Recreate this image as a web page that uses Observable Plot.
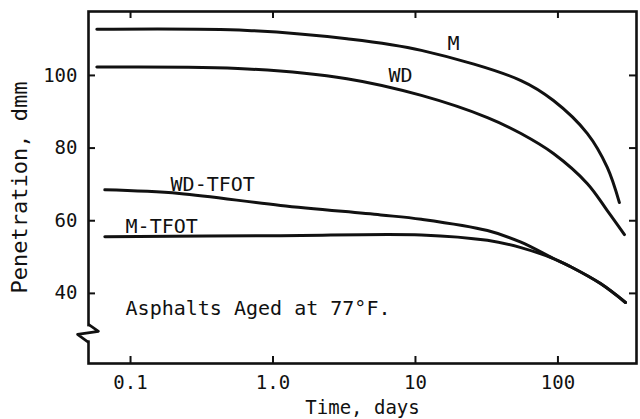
<!DOCTYPE html>
<html>
<head>
<meta charset="utf-8">
<script src="https://cdn.jsdelivr.net/npm/d3@7"></script>
<script src="https://cdn.jsdelivr.net/npm/@observablehq/plot@0.6"></script>
<style>
  html, body { margin: 0; padding: 0; background: #fff; }
</style>
</head>
<body>
<div id="chart"></div>
<script>
// ---- data ----
const seriesNames = ["M", "WD", "WD-TFOT", "M-TFOT"];
const curveM = [[0.058,112.7],[0.66,112.4],[3.3,110.1],[11,106.9],[55,98.6],[93,93.1],[161,84],[222,74.7],[270,65]];
const curveWD = [[0.058,102.3],[0.66,101.8],[3.3,99.1],[11,94.5],[32,88.4],[55,84],[93,78.5],[161,70.2],[222,62.8],[293,56.2]];
const curveWDTFOT = [[0.066,68.5],[0.22,67.5],[1.13,64.2],[5.7,61.6],[11,60.4],[32,57.3],[55,54.1],[93,49.6],[122,47.4],[199,42.7],[298,37.5]];
const curveMTFOT = [[0.066,55.6],[1.13,55.9],[11,56.1],[32,54.6],[55,52.6],[93,49.6],[122,47.4],[199,42.7],[298,37.5]];

const xTicks = [0.1, 1, 10, 100];
const xTickLabels = ["0.1", "1.0", "10", "100"];
const yTicks = [40, 60, 80, 100];

// curve labels: [text, day, penetration]
const centeredLabels = [
  ["M", 18.5, 108.8],
  ["WD", 7.85, 100.0]
];
const leftLabels = [
  ["WD-TFOT", 0.191, 70.0],
  ["M-TFOT", 0.0923, 58.3]
];
const noteText = ["Asphalts Aged at 77°F."];
const noteDay = [0.0923];
const notePen = [35.8];
const axisBreak = [29];

// ---- build ----
const curves = [curveM, curveWD, curveWDTFOT, curveMTFOT];
const rows = curves.flatMap((c, i) => c.map(([d, p]) => ({series: seriesNames[i], day: d, pen: p})));
const tickLabelOf = new Map(xTicks.map((t, i) => [t, xTickLabels[i]]));

const W = 640, H = 419;
const mL = 88, mR = 4, mT = 11, mB = 56;
const innerW = W - mL - mR, innerH = H - mT - mB;
const xDomain = [0.0507, 356];
const yDomain = [20.7, 117.6];

const gap = {draw(ctx) { ctx.moveTo(0, -7); ctx.lineTo(0, 7); }};
const zigzag = {
  draw(ctx) {
    ctx.moveTo(0, -9);
    ctx.lineTo(10, -2);
    ctx.lineTo(-11, 1);
    ctx.lineTo(0, 9);
  }
};

const font = "DejaVu Sans Mono";

const chart = Plot.plot({
  width: W, height: H,
  marginLeft: mL, marginRight: mR, marginTop: mT, marginBottom: mB,
  style: {fontFamily: font, fontSize: "19px", color: "#111", background: "#fff"},
  x: {type: "log", domain: xDomain},
  y: {domain: yDomain},
  marks: [
    Plot.axisX({ticks: xTicks, tickSize: 0, tickPadding: 12, tickFormat: d => tickLabelOf.get(d),
      label: "Time, days", labelAnchor: "center", labelOffset: 50, labelArrow: "none", fontSize: 19}),
    Plot.axisY({ticks: yTicks, tickSize: 0, tickPadding: 11, label: null, fontSize: 19}),
    Plot.axisY({ticks: [], tickSize: 0, label: "Penetration, dmm",
      labelAnchor: "center", labelOffset: 77, labelArrow: "none", fontSize: 22}),
    // inward ticks
    Plot.tickX(xTicks, {x: d => d, insetTop: innerH - 7, stroke: "#111", strokeWidth: 2}),
    Plot.tickX(xTicks, {x: d => d, insetBottom: innerH - 7, stroke: "#111", strokeWidth: 2}),
    Plot.tickY(yTicks, {y: d => d, insetRight: innerW - 7, stroke: "#111", strokeWidth: 2}),
    Plot.tickY(yTicks, {y: d => d, insetLeft: innerW - 7, stroke: "#111", strokeWidth: 2}),
    Plot.frame({stroke: "#111", strokeWidth: 2.6}),
    Plot.dot(axisBreak, {x: () => xDomain[0], y: d => d, symbol: gap, r: 10,
      stroke: "#fff", strokeWidth: 5, fill: "none"}),
    Plot.dot(axisBreak, {x: () => xDomain[0], y: d => d, symbol: zigzag, r: 10,
      stroke: "#111", strokeWidth: 2.6, fill: "none", strokeLinejoin: "round"}),
    Plot.line(rows, {x: "day", y: "pen", z: "series", stroke: "#111", strokeWidth: 3,
      curve: "catmull-rom", strokeLinecap: "round"}),
    Plot.text(centeredLabels, {x: d => d[1], y: d => d[2], text: d => d[0], textAnchor: "middle",
      fontSize: 20, fill: "#111"}),
    Plot.text(leftLabels, {x: d => d[1], y: d => d[2], text: d => d[0], textAnchor: "start",
      fontSize: 20, fill: "#111"}),
    Plot.text(noteText, {x: (d, i) => noteDay[i], y: (d, i) => notePen[i], text: d => d,
      textAnchor: "start", fontSize: 20, fill: "#111"})
  ]
});
document.getElementById("chart").appendChild(chart);
</script>
</body>
</html>
